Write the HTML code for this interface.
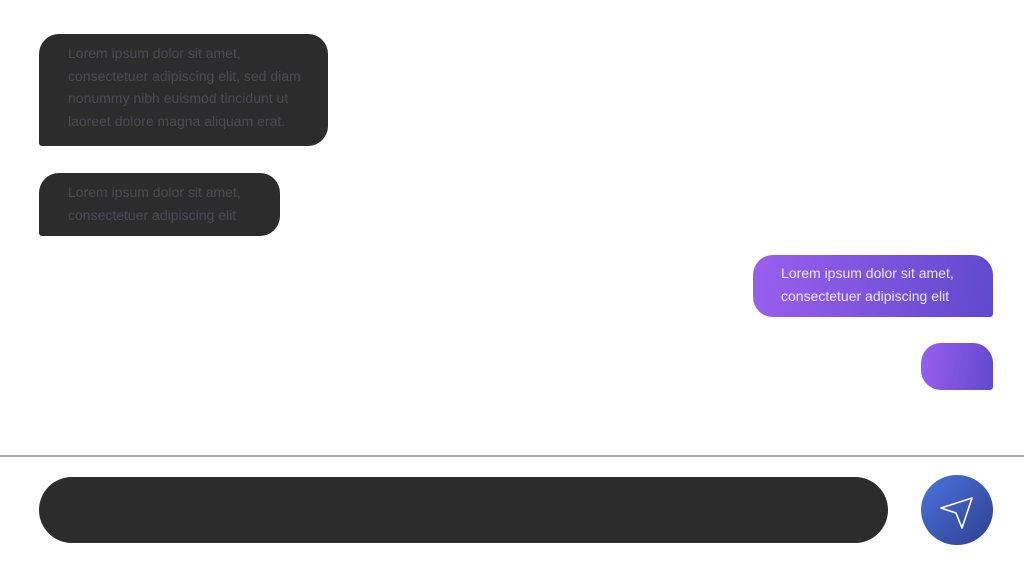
<!DOCTYPE html>
<html><head><style>
body{margin:0;width:1024px;height:578px;background:#fff;position:relative;overflow:hidden;font-family:"Liberation Sans",sans-serif;}
.b{position:absolute;box-sizing:border-box;font-size:14px;line-height:22.7px;white-space:nowrap;}
.d{background:#2c2c2c;color:#4c4b52;border-radius:20px 20px 20px 3px;padding:8px 0 0 29px;}
.p{background:linear-gradient(100deg,#9b5ff0,#5f49cc);color:#ece4ff;border-radius:20px 20px 3px 20px;padding:7px 0 0 28px;}
</style></head><body>
<div class="b d" style="left:39px;top:34px;width:289px;height:112px;">Lorem ipsum dolor sit amet,<br>consectetuer adipiscing elit, sed diam<br>nonummy nibh euismod tincidunt ut<br>laoreet dolore magna aliquam erat.</div>
<div class="b d" style="left:39px;top:173px;width:241px;height:63px;">Lorem ipsum dolor sit amet,<br>consectetuer adipiscing elit</div>
<div class="b p" style="left:753px;top:255px;width:240px;height:62px;">Lorem ipsum dolor sit amet,<br>consectetuer adipiscing elit</div>
<div class="b p" style="left:921px;top:343px;width:72px;height:47px;"></div>
<div style="position:absolute;left:0;top:455px;width:1024px;height:2px;background:#ababab"></div>
<div style="position:absolute;left:39px;top:477px;width:849px;height:66px;border-radius:33px;background:#2c2c2c"></div>
<div style="position:absolute;left:921px;top:475px;width:72px;height:70px;border-radius:50%;background:linear-gradient(135deg,#4a74e0,#2f3f8c)"></div>
<svg style="position:absolute;left:921px;top:475px" width="72" height="70"><path d="M20 33 L51 23 L41 53 L35 38 Z" fill="none" stroke="#fff" stroke-width="1.6" stroke-linejoin="round"/></svg>
</body></html>
